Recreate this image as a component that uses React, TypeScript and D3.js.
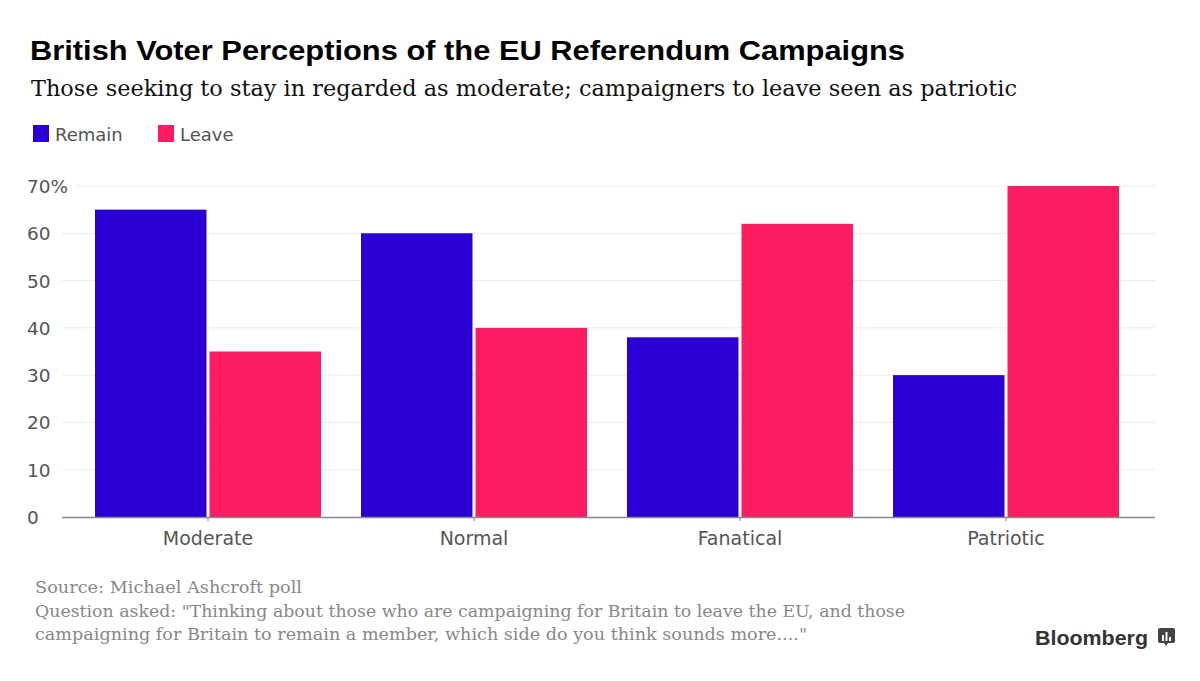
import React from "react";
import * as d3 from "d3";

const categories = ["Moderate", "Normal", "Fanatical", "Patriotic"];
const remainValues = [65, 60, 38, 30];
const leaveValues = [35, 40, 62, 70];
const seriesNames = ["Remain", "Leave"];
const seriesColors = ["#2a00d5", "#fc1c62"];
const yTicks = [0, 10, 20, 30, 40, 50, 60, 70];

const SANS = "DejaVu Sans, Verdana, sans-serif";
const SERIF = "DejaVu Serif, Georgia, serif";

export default function App() {
  const W = 1200, H = 681;
  const x0 = d3.scaleBand<string>().domain(categories).range([75, 1139]).paddingInner(0).paddingOuter(0);
  const x1 = d3.scaleBand<string>().domain(seriesNames).range([20, x0.bandwidth() - 20]).paddingInner(6 / 226);
  const y = d3.scaleLinear().domain([0, 70]).range([517, 186]);
  const series = [remainValues, leaveValues];
  return (
    <svg width={W} height={H} style={{ position: "absolute", left: 0, top: 0, background: "#fff" }}>
      <rect width={W} height={H} fill="#fff" />
      <text x={30} y={60} fontFamily="Liberation Sans, Arial, sans-serif" fontWeight="bold" fontSize={27} textLength={875} lengthAdjust="spacingAndGlyphs" fill="#000">
        British Voter Perceptions of the EU Referendum Campaigns
      </text>
      <text x={31} y={96} fontFamily={SERIF} fontSize={21.5} textLength={986} lengthAdjust="spacingAndGlyphs" fill="#111">
        Those seeking to stay in regarded as moderate; campaigners to leave seen as patriotic
      </text>
      {seriesNames.map((s, i) => (
        <g key={s} transform={`translate(${i === 0 ? 33 : 158},0)`}>
          <rect x={0} y={125} width={16} height={17} fill={seriesColors[i]} />
          <text x={22} y={141} fontFamily={SANS} fontSize={18} fill="#555">{s}</text>
        </g>
      ))}
      {yTicks.map((t) => (
        <g key={t}>
          {t > 0 && <line x1={t === 70 ? 76 : 62} x2={1155} y1={y(t)} y2={y(t)} stroke="#ececec" strokeWidth={1} />}
          <text x={27} y={y(t) + 7} fontFamily={SANS} fontSize={18.5} fill="#555">
            {t === 70 ? "70%" : String(t)}
          </text>
        </g>
      ))}
      {categories.map((c, ci) => (
        <g key={c} transform={`translate(${x0(c)},0)`}>
          {series.map((vals, si) => (
            <rect key={si} x={x1(seriesNames[si])} width={x1.bandwidth()} y={y(vals[ci])} height={y(0) - y(vals[ci])} fill={seriesColors[si]} />
          ))}
          <line x1={x0.bandwidth() / 2} x2={x0.bandwidth() / 2} y1={517} y2={521} stroke="#888" />
          <text x={x0.bandwidth() / 2} y={545} textAnchor="middle" fontFamily={SANS} fontSize={19} fill="#555">{c}</text>
        </g>
      ))}
      <line x1={62} x2={1155} y1={517.5} y2={517.5} stroke="#888" strokeWidth={1.5} />
      <g fontFamily={SERIF} fontSize={17} fill="#888">
        <text x={35} y={593} textLength={267} lengthAdjust="spacingAndGlyphs">Source: Michael Ashcroft poll</text>
        <text x={35} y={617} textLength={870} lengthAdjust="spacingAndGlyphs">Question asked: "Thinking about those who are campaigning for Britain to leave the EU, and those</text>
        <text x={35} y={640} textLength={772} lengthAdjust="spacingAndGlyphs">campaigning for Britain to remain a member, which side do you think sounds more...."</text>
      </g>
      <text x={1035} y={645} fontFamily="Liberation Sans, Arial, sans-serif" fontWeight="bold" fontSize={21} textLength={113} lengthAdjust="spacingAndGlyphs" fill="#333">Bloomberg</text>
      <g transform="translate(1158,628)">
        <rect width={17} height={15} rx={2} fill="#444" />
        <path d="M6,15 L8,18 L10,15 Z" fill="#444" />
        <rect x={4} y={7} width={2} height={6} fill="#fff" />
        <rect x={7.5} y={4} width={2} height={9} fill="#fff" />
        <rect x={11} y={9} width={2} height={4} fill="#fff" />
      </g>
    </svg>
  );
}
